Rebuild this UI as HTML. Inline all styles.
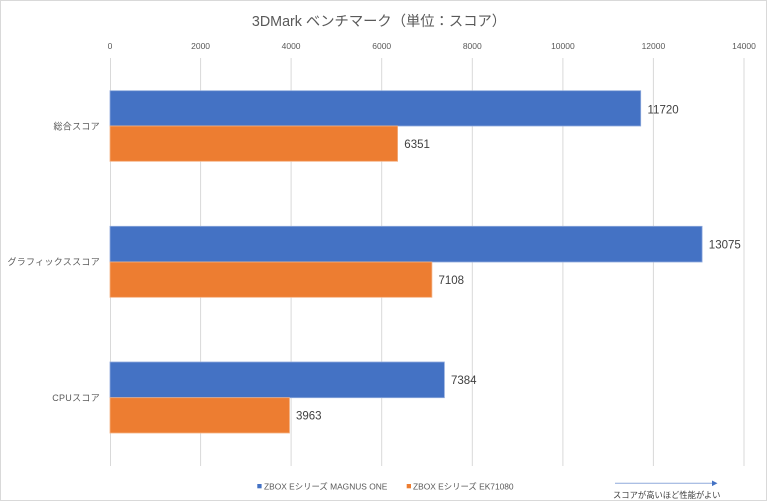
<!DOCTYPE html>
<html>
<head>
<meta charset="utf-8">
<style>
  html,body{margin:0;padding:0;background:#fff;}
  svg{display:block;}
  text{font-family:"Liberation Sans","Noto Sans CJK JP",sans-serif;}
</style>
</head>
<body>
<svg width="768" height="502" viewBox="0 0 768 502" xmlns="http://www.w3.org/2000/svg">
  <rect x="0.5" y="0.5" width="766" height="500" fill="#fff" stroke="#d9d9d9" stroke-width="1"/>
  <!-- title -->
  <text x="379" y="26" text-anchor="middle" font-size="14.3" fill="#595959">3DMark ベンチマーク（単位：スコア）</text>
  <!-- gridlines -->
  <g stroke="#d9d9d9" stroke-width="1">
    <line x1="110.5" y1="58" x2="110.5" y2="466"/>
    <line x1="200.6" y1="58" x2="200.6" y2="466"/>
    <line x1="291.1" y1="58" x2="291.1" y2="466"/>
    <line x1="381.7" y1="58" x2="381.7" y2="466"/>
    <line x1="472.3" y1="58" x2="472.3" y2="466"/>
    <line x1="562.9" y1="58" x2="562.9" y2="466"/>
    <line x1="653.4" y1="58" x2="653.4" y2="466"/>
    <line x1="744" y1="58" x2="744" y2="466"/>
  </g>
  <!-- tick labels -->
  <g font-size="8.5" fill="#595959" text-anchor="middle">
    <text x="110" y="49">0</text>
    <text x="200.6" y="49">2000</text>
    <text x="291.1" y="49">4000</text>
    <text x="381.7" y="49">6000</text>
    <text x="472.3" y="49">8000</text>
    <text x="562.9" y="49">10000</text>
    <text x="653.4" y="49">12000</text>
    <text x="744" y="49">14000</text>
  </g>
  <!-- category labels -->
  <g font-size="9" fill="#595959" text-anchor="end" letter-spacing="0.3">
    <text x="100" y="129.5">総合スコア</text>
    <text x="100" y="265">グラフィックススコア</text>
    <text x="100" y="401">CPUスコア</text>
  </g>
  <!-- bars -->
  <g stroke-width="0.8">
    <rect x="110" y="90.7" width="530.7" height="35.3" fill="#4472c4" stroke="#8faadc"/>
    <rect x="110" y="126" width="287.6" height="35.3" fill="#ed7d31" stroke="#f4b183"/>
    <rect x="110" y="226.3" width="592.1" height="35.7" fill="#4472c4" stroke="#8faadc"/>
    <rect x="110" y="262" width="321.9" height="35.3" fill="#ed7d31" stroke="#f4b183"/>
    <rect x="110" y="362" width="334.4" height="35.7" fill="#4472c4" stroke="#8faadc"/>
    <rect x="110" y="397.7" width="179.5" height="35.3" fill="#ed7d31" stroke="#f4b183"/>
  </g>
  <!-- value labels -->
  <g font-size="11.5" fill="#404040">
    <text x="647.5" y="113.3">11720</text>
    <text x="404.3" y="148">6351</text>
    <text x="708.8" y="248.5">13075</text>
    <text x="438.5" y="284">7108</text>
    <text x="451" y="384">7384</text>
    <text x="296" y="419.5">3963</text>
  </g>
  <!-- legend -->
  <rect x="257.3" y="484" width="4.3" height="4.3" fill="#4472c4"/>
  <text x="264" y="489.3" font-size="8.4" fill="#595959">ZBOX Eシリーズ MAGNUS ONE</text>
  <rect x="406.7" y="484" width="4.3" height="4.3" fill="#ed7d31"/>
  <text x="413" y="489.3" font-size="8.4" fill="#595959">ZBOX Eシリーズ EK71080</text>
  <!-- arrow -->
  <line x1="615" y1="483.3" x2="713" y2="483.3" stroke="#8faadc" stroke-width="1"/>
  <polygon points="712,480.5 717.5,483.3 712,486.1" fill="#4472c4"/>
  <text x="613" y="498" font-size="8.3" fill="#404040">スコアが高いほど性能がよい</text>
</svg>
</body>
</html>
